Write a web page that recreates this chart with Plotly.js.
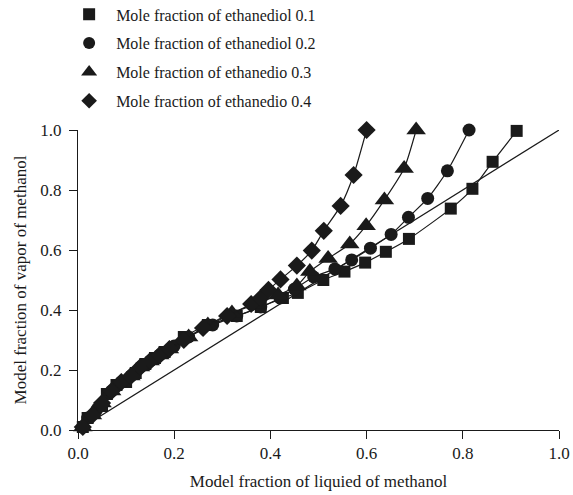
<!DOCTYPE html>
<html>
<head>
<meta charset="utf-8">
<script src="https://cdn.plot.ly/plotly-3.0.1.min.js"></script>
<style>html,body{margin:0;padding:0;background:#fff;}#chart{width:573px;height:495px;}</style>
</head>
<body>
<div id="chart"></div>
<script>
// Series names
const seriesNames = [
  "Mole fraction of ethanediol 0.1",
  "Mole fraction of ethanediol 0.2",
  "Mole fraction of ethanedio 0.3",
  "Mole fraction of ethanedio 0.4"
];
// Liquid mole fraction (x) and vapor mole fraction (y) for each series
const x01 = [0.01, 0.02, 0.05, 0.06, 0.08, 0.10, 0.12, 0.14, 0.16, 0.18, 0.22, 0.27, 0.33, 0.38, 0.426, 0.457, 0.51, 0.554, 0.597, 0.64, 0.688, 0.775, 0.82, 0.862, 0.912];
const y01 = [0.01, 0.04, 0.08, 0.12, 0.15, 0.16, 0.19, 0.22, 0.24, 0.26, 0.31, 0.35, 0.38, 0.41, 0.44, 0.457, 0.50, 0.528, 0.558, 0.594, 0.637, 0.738, 0.804, 0.894, 0.997];
const x02 = [0.01, 0.02, 0.04, 0.07, 0.09, 0.11, 0.13, 0.15, 0.17, 0.20, 0.23, 0.28, 0.33, 0.38, 0.42, 0.45, 0.49, 0.534, 0.569, 0.608, 0.651, 0.687, 0.727, 0.768, 0.813];
const y02 = [0.01, 0.04, 0.07, 0.13, 0.16, 0.18, 0.21, 0.23, 0.25, 0.28, 0.31, 0.35, 0.38, 0.41, 0.44, 0.47, 0.51, 0.537, 0.567, 0.606, 0.652, 0.709, 0.772, 0.864, 1.0];
const x03 = [0.01, 0.03, 0.05, 0.07, 0.09, 0.11, 0.13, 0.15, 0.17, 0.19, 0.23, 0.27, 0.32, 0.37, 0.416, 0.455, 0.482, 0.52, 0.565, 0.599, 0.637, 0.678, 0.703];
const y03 = [0.01, 0.05, 0.09, 0.13, 0.16, 0.18, 0.21, 0.23, 0.25, 0.27, 0.31, 0.35, 0.39, 0.42, 0.45, 0.48, 0.528, 0.572, 0.62, 0.681, 0.767, 0.872, 1.0];
const x04 = [0.01, 0.03, 0.05, 0.07, 0.09, 0.11, 0.13, 0.15, 0.17, 0.19, 0.22, 0.26, 0.31, 0.36, 0.38, 0.396, 0.421, 0.455, 0.486, 0.511, 0.546, 0.573, 0.60];
const y04 = [0.01, 0.05, 0.09, 0.13, 0.16, 0.18, 0.21, 0.23, 0.25, 0.27, 0.30, 0.34, 0.38, 0.42, 0.44, 0.467, 0.502, 0.548, 0.598, 0.664, 0.747, 0.85, 1.0];
// Diagonal reference line y = x
const diagX = [0, 1];
const diagY = [0, 1];
// Axis tick values / labels
const tickVals = [0, 0.2, 0.4, 0.6, 0.8, 1.0];
const tickText = ["0.0", "0.2", "0.4", "0.6", "0.8", "1.0"];

const xs = [x01, x02, x03, x04];
const ys = [y01, y02, y03, y04];
const symbols = ["square", "circle", "triangle-up", "diamond"];
const sizes = [12, 13, 17, 14];
const FONT = "'Liberation Serif', 'Times New Roman', serif";
const INK = "#1a1a1a";

const traces = [];
traces.push({x: diagX, y: diagY, mode: "lines", line: {color: INK, width: 1.2}, showlegend: false, hoverinfo: "skip", cliponaxis: false});
for (let i = 0; i < 4; i++) {
  traces.push({
    x: xs[i], y: ys[i], mode: "lines+markers", showlegend: false,
    line: {color: INK, width: 1.2, shape: "spline", smoothing: 0.6},
    marker: {symbol: symbols[i], size: sizes[i], color: INK},
    cliponaxis: false
  });
}
for (let i = 0; i < 4; i++) {
  traces.push({
    x: [null], y: [null], mode: "markers", name: seriesNames[i], legendgroup: "g" + i,
    marker: {symbol: symbols[i], size: i === 2 ? 14 : 12, color: INK}
  });
}

const axisCommon = {
  range: [0, 1], tickvals: tickVals, ticktext: tickText, automargin: false,
  showgrid: false, zeroline: false, showline: true, linecolor: INK, linewidth: 1,
  ticks: "outside", ticklen: 8, tickcolor: INK, tickwidth: 1,
  tickfont: {family: FONT, size: 17, color: INK}, fixedrange: true
};

const layout = {
  width: 573, height: 495,
  margin: {l: 78, r: 14, t: 130, b: 65, autoexpand: false},
  paper_bgcolor: "#fff", plot_bgcolor: "#fff",
  font: {family: FONT, color: INK},
  xaxis: Object.assign({}, axisCommon, {
    title: {text: "Model fraction of liquied of methanol", font: {family: FONT, size: 17, color: INK}, standoff: 12}
  }),
  yaxis: Object.assign({}, axisCommon, {
    ticklabelstandoff: 4,
    title: {text: "Model fraction of vapor of methanol", font: {family: FONT, size: 17, color: INK}, standoff: 9}
  }),
  showlegend: true,
  legend: {
    x: -0.033, y: 1.442, xref: "paper", yref: "paper", xanchor: "left", yanchor: "top",
    font: {family: FONT, size: 16, color: INK}, itemwidth: 44,
    bgcolor: "rgba(0,0,0,0)", traceorder: "grouped", tracegroupgap: 5
  }
};

Plotly.newPlot("chart", traces, layout, {displayModeBar: false, staticPlot: true});
</script>
</body>
</html>
